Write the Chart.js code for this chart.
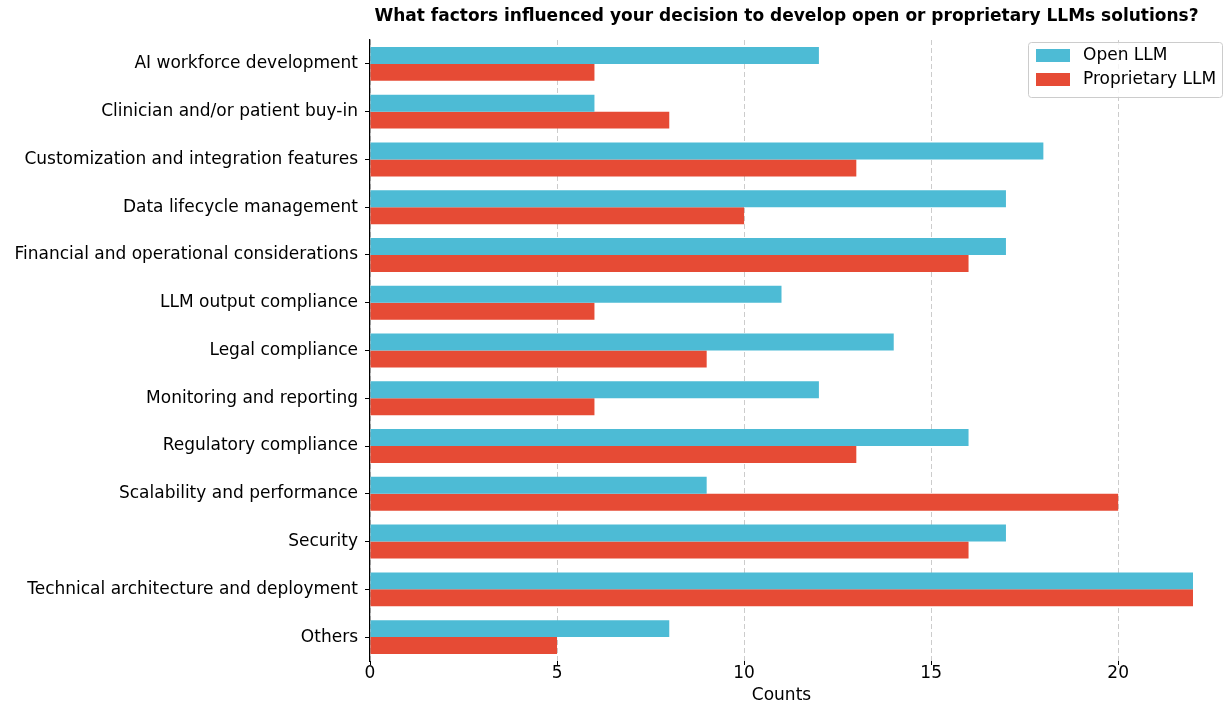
<!DOCTYPE html>
<html>
<head>
<meta charset="utf-8">
<script src="https://cdn.jsdelivr.net/npm/chart.js@4"></script>
<style>
  html, body { margin: 0; padding: 0; background: #fff; }
  #wrap { width: 1225px; height: 708px; position: relative; }
</style>
</head>
<body>
<div id="wrap"><canvas id="factorChart" width="1225" height="708"></canvas></div>
<script>
// Data
const categories = [
    "AI workforce development",
    "Clinician and/or patient buy-in",
    "Customization and integration features",
    "Data lifecycle management",
    "Financial and operational considerations",
    "LLM output compliance",
    "Legal compliance",
    "Monitoring and reporting",
    "Regulatory compliance",
    "Scalability and performance",
    "Security",
    "Technical architecture and deployment",
    "Others"
];
const openLLM = [12, 6, 18, 17, 17, 11, 14, 12, 16, 9, 17, 22, 8];
const proprietaryLLM = [6, 8, 13, 10, 16, 6, 9, 6, 13, 20, 16, 22, 5];
const seriesNames = ["Open LLM", "Proprietary LLM"];
const xTicks = [0, 5, 10, 15, 20];
const chartTitle = "What factors influenced your decision to develop open or proprietary LLMs solutions?";
const xTitle = "Counts";

const colors = ["#4DBBD5", "#E64B35"];
const fontFamily = "'DejaVu Sans', sans-serif";

// Titel en legenda tekenen binnen het plotgebied
const extrasPlugin = {
    id: 'extras',
    afterDraw(chart) {
        const ctx = chart.ctx;
        const area = chart.chartArea;
        ctx.save();
        // titel
        ctx.font = "bold 17px " + fontFamily;
        ctx.fillStyle = "#000";
        ctx.textAlign = "center";
        ctx.textBaseline = "middle";
        ctx.fillText(chartTitle, (area.left + area.right) / 2 + 5, 17);

        // legenda
        const bx = 1028, by = 42, bw = 194, bh = 55;
        ctx.fillStyle = "rgba(255,255,255,0.8)";
        ctx.strokeStyle = "#cccccc";
        ctx.lineWidth = 1;
        ctx.beginPath();
        ctx.roundRect(bx + 0.5, by + 0.5, bw, bh, 3);
        ctx.fill();
        ctx.stroke();
        ctx.font = "17px " + fontFamily;
        ctx.textAlign = "left";
        seriesNames.forEach((name, i) => {
            const y = by + 7 + i * 24;
            ctx.fillStyle = colors[i];
            ctx.fillRect(bx + 8, y, 34, 13);
            ctx.fillStyle = "#000";
            ctx.fillText(name, bx + 55, y + 7);
        });
        ctx.restore();
    }
};

const ctx = document.getElementById('factorChart').getContext('2d');
new Chart(ctx, {
    type: 'bar',
    data: {
        labels: categories,
        datasets: [
            { label: seriesNames[0], data: openLLM, backgroundColor: colors[0] },
            { label: seriesNames[1], data: proprietaryLLM, backgroundColor: colors[1] }
        ]
    },
    options: {
        indexAxis: 'y',
        responsive: false,
        animation: false,
        devicePixelRatio: 1,
        layout: { padding: { top: 40, right: 32, left: 0, bottom: 0 } },
        datasets: {
            bar: { categoryPercentage: 0.71, barPercentage: 1.0, borderWidth: 0 }
        },
        plugins: {
            legend: { display: false },
            title: { display: false },
            tooltip: { enabled: false }
        },
        scales: {
            x: {
                min: 0,
                max: 22,
                afterBuildTicks(scale) {
                    scale.ticks = xTicks.map(v => ({ value: v }));
                },
                ticks: {
                    color: "#000",
                    font: { family: fontFamily, size: 17 },
                    padding: -2
                },
                grid: {
                    color: "#cccccc",
                    lineWidth: 1,
                    tickColor: "#000",
                    tickLength: 4,
                    tickBorderDash: []
                },
                border: { display: false, dash: [5, 3] },
                title: {
                    display: true,
                    text: xTitle,
                    color: "#000",
                    font: { family: fontFamily, size: 17 },
                    padding: { top: 0, bottom: 2 }
                },
                afterFit(scale) { scale.height = 47; }
            },
            y: {
                offset: true,
                ticks: {
                    color: "#000",
                    font: { family: fontFamily, size: 17 },
                    padding: 7
                },
                grid: {
                    display: true,
                    offset: false,
                    drawOnChartArea: false,
                    drawTicks: true,
                    tickLength: 5,
                    tickColor: "#000"
                },
                border: { display: true, color: "#000", width: 1.25 },
                afterFit(scale) { scale.width = 370; }
            }
        }
    },
    plugins: [extrasPlugin]
});
</script>
</body>
</html>
